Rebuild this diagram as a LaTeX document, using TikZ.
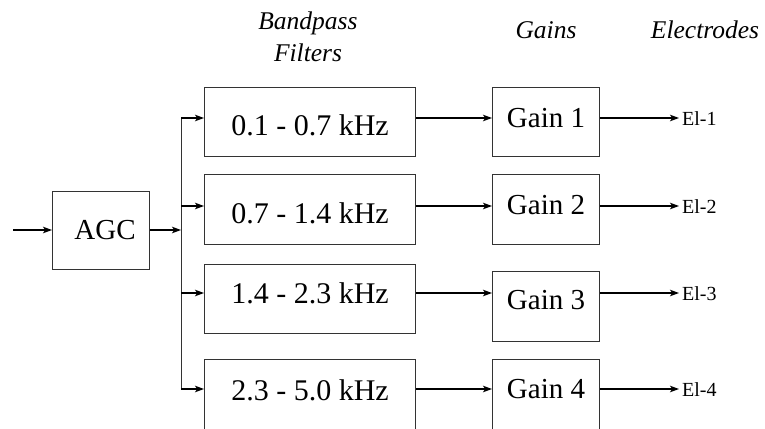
\documentclass[tikz,border=0pt]{standalone}
\usepackage{fontspec}
\setmainfont{Liberation Serif}
\usetikzlibrary{arrows.meta}
% shift the ink of a label up without changing its box
\newcommand{\liftby}[2]{\raisebox{#1}[\height][\depth]{#2}}
\begin{document}
\begin{tikzpicture}[x=1pt,y=-1pt,
  blk/.style={draw=black!80, line width=1pt, inner sep=0pt, anchor=north west},
  fbox/.style={blk, minimum width=211pt, font=\fontsize{30}{36}\selectfont},
  gbox/.style={blk, minimum width=107pt, font=\fontsize{29}{34}\selectfont},
  arr/.style={-{Stealth[length=9pt,width=6.5pt,inset=2.2pt]}, line width=1.1pt},
  elec/.style={anchor=west, inner sep=3pt, font=\fontsize{20}{24}\selectfont},
  head/.style={font=\fontsize{25.5}{31.5}\selectfont\itshape, inner sep=0pt, align=center}]
\useasboundingbox (0,0) rectangle (765,428);
\clip (0,0) rectangle (765,428);

% row levels of the signal paths
\coordinate (r1) at (0,118);
\coordinate (r2) at (0,206);
\coordinate (r3) at (0,293);
\coordinate (r4) at (0,389);
\coordinate (in) at (13,230);
\coordinate (split) at (181,230);

% column headings
\node[head, anchor=north] (hbp) at (308,12) {Bandpass\\Filters};
\node[head, anchor=base] (hg) at (546,38) {Gains};
\node[head, anchor=base] (he) at (705,38) {Electrodes};

% automatic gain control
\node[blk, minimum width=97pt, minimum height=78pt, font=\fontsize{29}{34}\selectfont] (agc) at (52,191) {\hspace*{8pt}AGC};

% bandpass filters
\node[fbox, minimum height=69pt] (f1) at (204,87) {\liftby{-3.5pt}{0.1 - 0.7 kHz}};
\node[fbox, minimum height=70pt] (f2) at (204,174) {\liftby{-4pt}{0.7 - 1.4 kHz}};
\node[fbox, minimum height=69pt] (f3) at (204,264) {\liftby{6pt}{1.4 - 2.3 kHz}};
\node[fbox, minimum height=70pt] (f4) at (204,359) {\liftby{4pt}{2.3 - 5.0 kHz}};

% gain stages
\node[gbox, minimum height=69pt] (g1) at (492,87) {\liftby{3.5pt}{Gain 1}};
\node[gbox, minimum height=70pt] (g2) at (492,174) {\liftby{4pt}{Gain 2}};
\node[gbox, minimum height=70pt] (g3) at (492,271) {\liftby{6pt}{Gain 3}};
\node[gbox, minimum height=70pt] (g4) at (492,359) {\liftby{5pt}{Gain 4}};

% electrode outputs
\node[elec] (e1) at (679,119) {El-1};
\node[elec] (e2) at (679,207) {El-2};
\node[elec] (e3) at (679,294) {El-3};
\node[elec] (e4) at (679,390) {El-4};

% input and distribution bus
\draw[arr] (in) -- (agc.west |- in);
\draw[arr] (agc.east |- split) -- (split);
\draw[line width=1pt, black!80] (split |- r1) -- (split |- r4);
\foreach \i in {1,...,4} {
  \draw[arr] (split |- r\i) -- (f\i.west |- r\i);
  \draw[arr] (f\i.east |- r\i) -- (g\i.west |- r\i);
  \draw[arr] (g\i.east |- r\i) -- (e\i.west |- r\i);
}
\end{tikzpicture}
\end{document}
